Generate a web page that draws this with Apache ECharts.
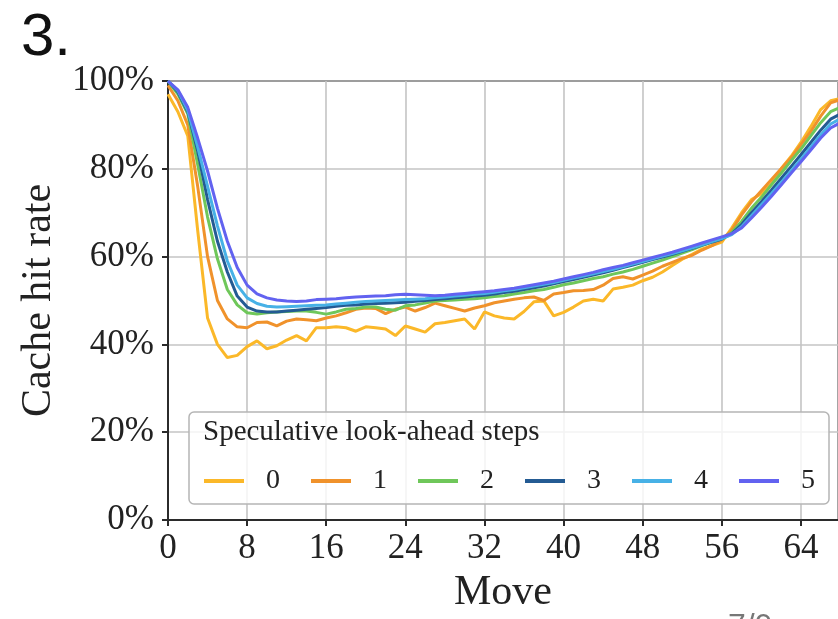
<!DOCTYPE html>
<html>
<head>
<meta charset="utf-8">
<script src="https://cdn.jsdelivr.net/npm/echarts@6/dist/echarts.min.js"></script>
<style>
  html, body { margin: 0; padding: 0; background: #fff; }
  #chart { width: 838px; height: 619px; }
</style>
</head>
<body>
<div id="chart"></div>
<script>
// 数据：每一步 (move) 的缓存命中率 (%)
const moves = [0,1,2,3,4,5,6,7,8,9,10,11,12,13,14,15,16,17,18,19,20,21,22,23,24,25,26,27,28,29,30,31,32,33,34,
  35,36,37,38,39,40,41,42,43,44,45,46,47,48,49,50,51,52,53,54,55,56,57,58,59,60,61,62,63,64,65,66,67,68];

const stepNames = ['0', '1', '2', '3', '4', '5'];
const stepColors = ['#fbb829', '#f0922b', '#6fc75a', '#245b93', '#47b1e6', '#6262f0'];

const steps0 = [97,93,87.5,66,46,40,37,37.5,39.5,40.8,39,39.7,41,42,40.8,43.8,43.8,44,43.8,43,44,43.8,43.5,42,44.2,
  43.5,42.8,44.7,45,45.4,45.8,43.5,47.4,46.5,46,45.8,47.5,49.7,49.9,46.5,47.3,48.5,49.9,50.3,49.9,52.6,53,53.5,54.5,
  55.3,56.5,58,59.4,60.5,61.7,62.5,63.3,66.5,70,73,74.3,76.5,80,82.8,86,89.6,93.5,95.5,96];
const steps1 = [99,95.5,90,76,60,50,45.8,44,43.8,45,45.1,44.2,45.3,45.8,45.6,45.4,46,46.5,47.2,48,48.3,48.2,47,48,48.5,
  47.6,48.4,49.4,48.8,48.2,47.6,48.3,48.8,49.5,49.9,50.3,50.6,50.8,50,51.5,51.8,52.2,52.3,52.5,53.5,55,55.4,54.9,55.8,
  56.7,57.8,58.7,59.6,60.3,61.5,62.5,63.8,66,69.5,72.5,75,77.5,80,82.5,85.5,88.5,92,95,95.8];
const steps2 = [100,97,92.5,81,69,59.5,52.5,49,47.2,46.9,47.2,47.4,47.5,47.6,47.6,47.3,46.9,47.4,48,48.2,48.5,48.5,48,
  47.8,48.8,49,49.4,49.9,50,50.1,50.3,50.4,50.6,50.9,51.1,51.5,51.8,52.2,52.5,53,53.6,54,54.5,55,55.4,56,56.5,57.1,
  57.8,58.5,59.2,60,60.8,61.6,62.5,63.3,64,65.5,68,71,73.5,76.3,79,81.8,84.5,87.5,90.5,93,94];
const steps3 = [100,97.5,93,84,73,63.5,56.5,51,48.5,47.6,47.4,47.4,47.6,47.8,48,48.2,48.4,48.7,48.9,49,49.2,49.3,49.4,
  49.5,49.6,49.8,50,50.2,50.4,50.6,50.8,51,51.2,51.5,51.8,52.1,52.5,52.9,53.3,53.8,54.3,54.8,55.3,55.8,56.3,56.9,57.5,
  58.1,58.7,59.3,59.9,60.5,61.2,61.9,62.6,63.3,64,65.2,67.3,70,72.5,75.1,77.8,80.5,83.2,86,88.8,91.3,92.5];
const steps4 = [100,97.8,93.3,85,76,67,59,53.5,50.6,49.3,48.7,48.5,48.6,48.7,48.8,48.9,49,49.2,49.4,49.6,49.8,49.9,50,
  50.1,50.2,50.3,50.4,50.6,50.8,51,51.2,51.4,51.6,51.9,52.2,52.5,52.9,53.3,53.7,54.1,54.6,55.1,55.6,56.1,56.6,57.1,
  57.7,58.3,58.9,59.5,60.1,60.7,61.3,62,62.7,63.4,64.1,65,66.8,69.3,71.8,74.3,76.9,79.5,82.2,85,87.7,90.2,91.4];
const steps5 = [100,98,94,87,79.5,71,63.5,57.5,53.5,51.5,50.6,50.1,49.9,49.8,49.9,50.2,50.3,50.4,50.6,50.8,50.9,51,
  51.1,51.3,51.4,51.3,51.2,51.1,51.2,51.4,51.6,51.8,52,52.2,52.5,52.8,53.2,53.6,54,54.4,54.9,55.4,55.9,56.4,57,57.5,
  58,58.6,59.2,59.8,60.4,61,61.7,62.4,63.1,63.8,64.5,65.2,66.5,68.8,71.2,73.7,76.3,79,81.6,84.3,87,89.3,90.5];

const allSteps = [steps0, steps1, steps2, steps3, steps4, steps5];

const serif = 'Liberation Serif';
const chart = echarts.init(document.getElementById('chart'));

const option = {
    backgroundColor: '#fff',
    animation: false,
    grid: {
        left: 168,
        top: 81,
        right: -3,
        height: 441,
        show: true,
        borderColor: '#2b2b2b',
        borderWidth: 2
    },
    xAxis: {
        type: 'value',
        min: 0,
        max: 67.75,
        interval: 8,
        name: 'Move',
        nameLocation: 'middle',
        nameGap: 52,
        nameTextStyle: { fontFamily: serif, fontSize: 42, color: '#222' },
        axisLine: { show: true, lineStyle: { color: '#2b2b2b', width: 2 } },
        axisTick: { show: true, length: 6, lineStyle: { color: '#2b2b2b', width: 2 } },
        axisLabel: { fontFamily: serif, fontSize: 35, color: '#222', margin: 11, showMaxLabel: false },
        splitLine: { show: true, lineStyle: { color: '#c4c4c4', width: 1.6 } }
    },
    yAxis: {
        type: 'value',
        min: 0,
        max: 100,
        interval: 20,
        name: 'Cache hit rate',
        nameLocation: 'middle',
        nameGap: 108,
        nameTextStyle: { fontFamily: serif, fontSize: 42, color: '#222' },
        axisLine: { show: true, lineStyle: { color: '#2b2b2b', width: 2 } },
        axisTick: { show: true, length: 6, lineStyle: { color: '#2b2b2b', width: 2 } },
        axisLabel: { fontFamily: serif, fontSize: 35, color: '#222', margin: 14, formatter: '{value}%' },
        splitLine: { show: true, lineStyle: { color: '#c4c4c4', width: 1.6 } }
    },
    legend: {
        left: 199,
        top: 462,
        z: 60,
        icon: 'rect',
        itemWidth: 40,
        itemHeight: 4,
        itemGap: 31,
        data: stepNames,
        textStyle: { fontFamily: serif, fontSize: 28, color: '#222', padding: [0, 0, 0, 17] }
    },
    series: allSteps.map((vals, k) => ({
        name: stepNames[k],
        type: 'line',
        data: vals.map((v, i) => [moves[i], v]),
        showSymbol: false,
        symbol: 'none',
        clip: true,
        lineStyle: { color: stepColors[k], width: 3 },
        itemStyle: { color: stepColors[k] },
        z: 2 + k
    })),
    graphic: [
        // 左上角编号
        {
            type: 'text',
            left: 21,
            top: 8,
            style: { text: '3.', font: '60px "Liberation Sans"', fill: '#111' }
        },
        // 图例外框
        {
            type: 'rect',
            z: 50,
            shape: { x: 189, y: 412, width: 640, height: 92, r: 5 },
            style: { fill: 'rgba(255,255,255,0.8)', stroke: '#b5b5b5', lineWidth: 1.5 }
        },
        {
            type: 'text',
            z: 51,
            left: 203,
            top: 418,
            style: { text: 'Speculative look-ahead steps', font: '29px "Liberation Serif"', fill: '#222' }
        },
        // 底部被裁切的页码
        {
            type: 'text',
            left: 728,
            top: 611,
            style: { text: '7/9', font: '32px "Liberation Sans"', fill: '#777' }
        }
    ]
};

chart.setOption(option);
</script>
</body>
</html>
